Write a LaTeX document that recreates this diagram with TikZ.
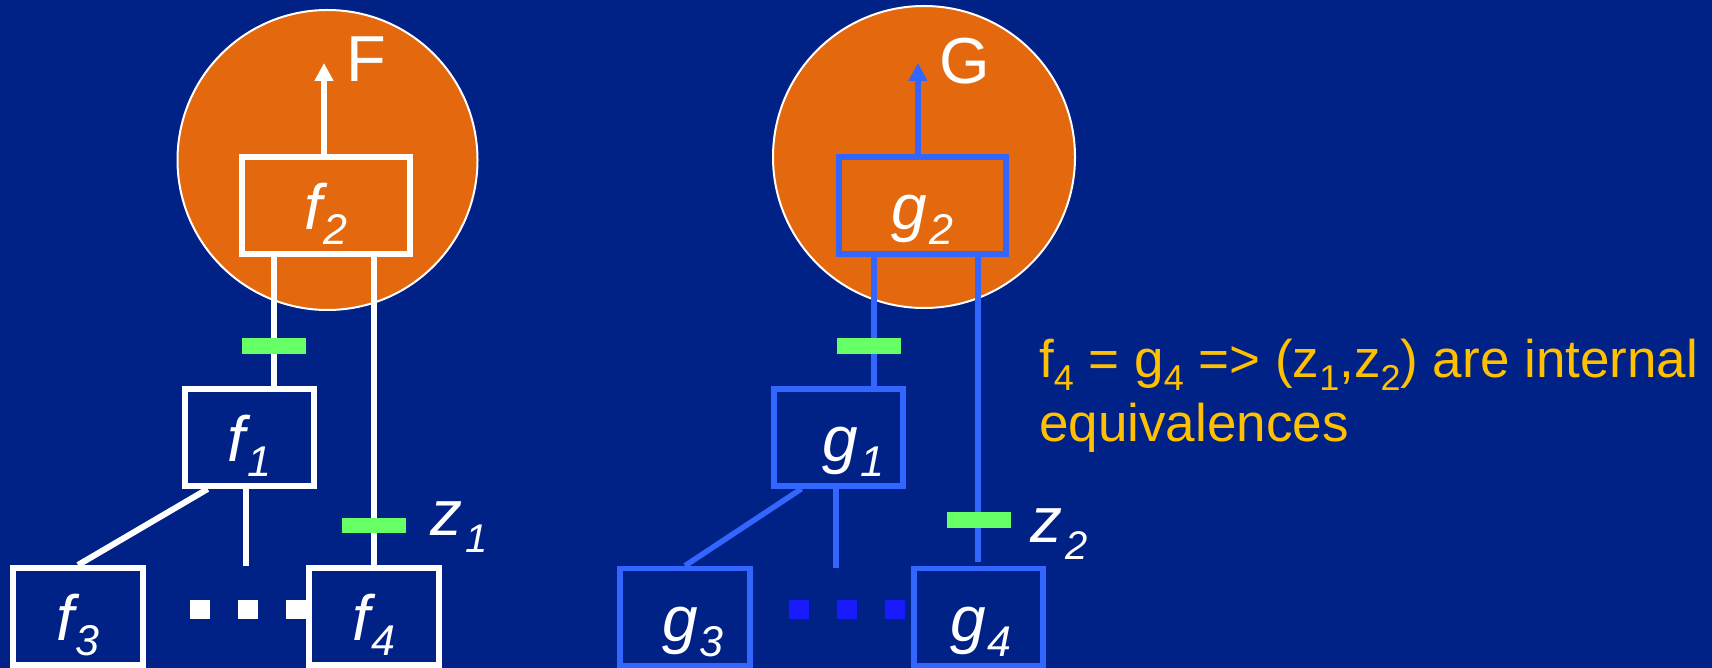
\documentclass[tikz,border=0pt]{standalone}
\usepackage{fontspec}
\setmainfont{Liberation Sans}
\usetikzlibrary{calc,arrows.meta}
\definecolor{bgc}{RGB}{0,33,133}
\definecolor{orng}{RGB}{228,105,14}
\definecolor{gblue}{RGB}{51,102,255}
\definecolor{dblue}{RGB}{26,26,255}
\definecolor{grn}{RGB}{102,255,102}
\definecolor{yel}{RGB}{255,192,0}
\newcommand{\boxlab}[2]{{\itshape #1\kern2pt\raisebox{-15pt}{\fontsize{43}{43}\selectfont #2}}}
\newcommand{\zlab}[2]{{\itshape #1\kern3pt\raisebox{-17pt}{\fontsize{40}{40}\selectfont #2}}}
\newcommand{\subs}[1]{\raisebox{-13pt}{\fontsize{36}{36}\selectfont #1}}
\begin{document}
\begin{tikzpicture}[x=1pt,y=-1pt,
  circ/.style={circle, minimum size=300pt, inner sep=0pt, fill=orng, draw=white, line width=2pt},
  fbox/.style={draw=white, line width=6pt, minimum height=97pt, inner sep=0pt, text=white,
     text height=48pt, text depth=0pt, font=\fontsize{64}{64}\selectfont},
  gbox/.style={fbox, draw=gblue, line width=5.5pt},
  wline/.style={draw=white, line width=6pt},
  bline/.style={draw=gblue, line width=5.5pt},
  bar/.style={fill=grn, minimum width=64pt, minimum height=16pt, inner sep=0pt},
  dot/.style={minimum width=20pt, minimum height=19pt, inner sep=0pt},
  bigtxt/.style={text=white, inner sep=0pt, anchor=base west, font=\fontsize{65}{65}\selectfont},
  ztxt/.style={text=white, inner sep=0pt, anchor=base west, font=\fontsize{64}{64}\selectfont}
]
\fill[bgc] (0,0) rectangle (1712,668);
\useasboundingbox (0,0) rectangle (1712,668);

% circles
\node[circ] (F) at (327.5,160) {};
\node[circ, minimum size=302pt] (G) at (924,157) {};

% F tree
\node[fbox, minimum width=168pt] (f2) at (326,205.5) {\boxlab{f}{2}};
\node[fbox, minimum width=129pt] (f1) at (249.5,437.5) {\boxlab{f}{1}};
\node[fbox, minimum width=130pt] (f3) at (78,616.5) {\boxlab{f}{3}};
\node[fbox, minimum width=130pt] (f4) at (374,616) {\boxlab{f}{4}};

\coordinate (Fa) at (324,63);
\coordinate (Fl) at (274,0);
\coordinate (Fm) at (246,566);
\draw[wline, -{Triangle[width=18pt,length=18pt]}] (Fa |- f2.north) -- (Fa);
\draw[wline] (f2.south -| Fl) -- (f1.north -| Fl);
\draw[wline] (f2.south -| f4.north) -- (f4.north);
\draw[wline] ($(f1.south west)!0.19!(f1.south east)$) -- (f3.north);
\draw[wline] (f1.south -| Fm) -- (Fm);

\node[bar] (b1) at (274,346) {};
\node[bar, minimum height=15pt] (bz1) at (374,525.5) {};
\node[ztxt] (z1) at (430,535) {\zlab{z}{1}};

\node[dot, fill=white] (fd1) at (200,609.5) {};
\node[dot, fill=white] (fd2) at (248,609.5) {};
\node[dot, fill=white] (fd3) at (296,609.5) {};
\node[bigtxt] (Flab) at (346,82) {F};

% G tree
\node[gbox, minimum width=167pt] (g2) at (922.5,205.5) {\boxlab{g}{2}};
\node[gbox, minimum width=129pt] (g1) at (838.5,437.5) {\hspace{30pt}\boxlab{g}{1}};
\node[gbox, minimum width=130pt] (g3) at (685,617) {\hspace{16pt}\boxlab{g}{3}};
\node[gbox, minimum width=129pt] (g4) at (978.5,617) {\hspace{5pt}\boxlab{g}{4}};

\coordinate (Ga) at (918,63);
\coordinate (Gl) at (874,0);
\coordinate (Gm) at (836,568);
\coordinate (Gr) at (978,562);
\draw[bline, -{Triangle[width=18pt,length=18pt]}] (Ga |- g2.north) -- (Ga);
\draw[bline] (g2.south -| Gl) -- (g1.north -| Gl);
\draw[bline] (g2.south -| Gr) -- (Gr);
\draw[bline] ($(g1.south west)!0.225!(g1.south east)$) -- (g3.north);
\draw[bline] (g1.south -| Gm) -- (Gm);

\node[bar] (b2) at (869,346) {};
\node[bar] (bz2) at (978.5,520) {};
\node[ztxt] (z2) at (1030,542) {\zlab{z}{2}};

\node[dot, fill=dblue] (gd1) at (799,609.5) {};
\node[dot, fill=dblue] (gd2) at (847,609.5) {};
\node[dot, fill=dblue] (gd3) at (895,609.5) {};
\node[bigtxt] (Glab) at (939,84) {G};

% statement (base anchor = baseline of the last line)
\node[text=yel, inner sep=0pt, anchor=base west, align=left, font=\fontsize{53}{64}\selectfont] (stmt) at (1039,441)
  {f\subs{4} = g\subs{4} => (z\subs{1},z\subs{2}) are internal\\equivalences};
\end{tikzpicture}
\end{document}
